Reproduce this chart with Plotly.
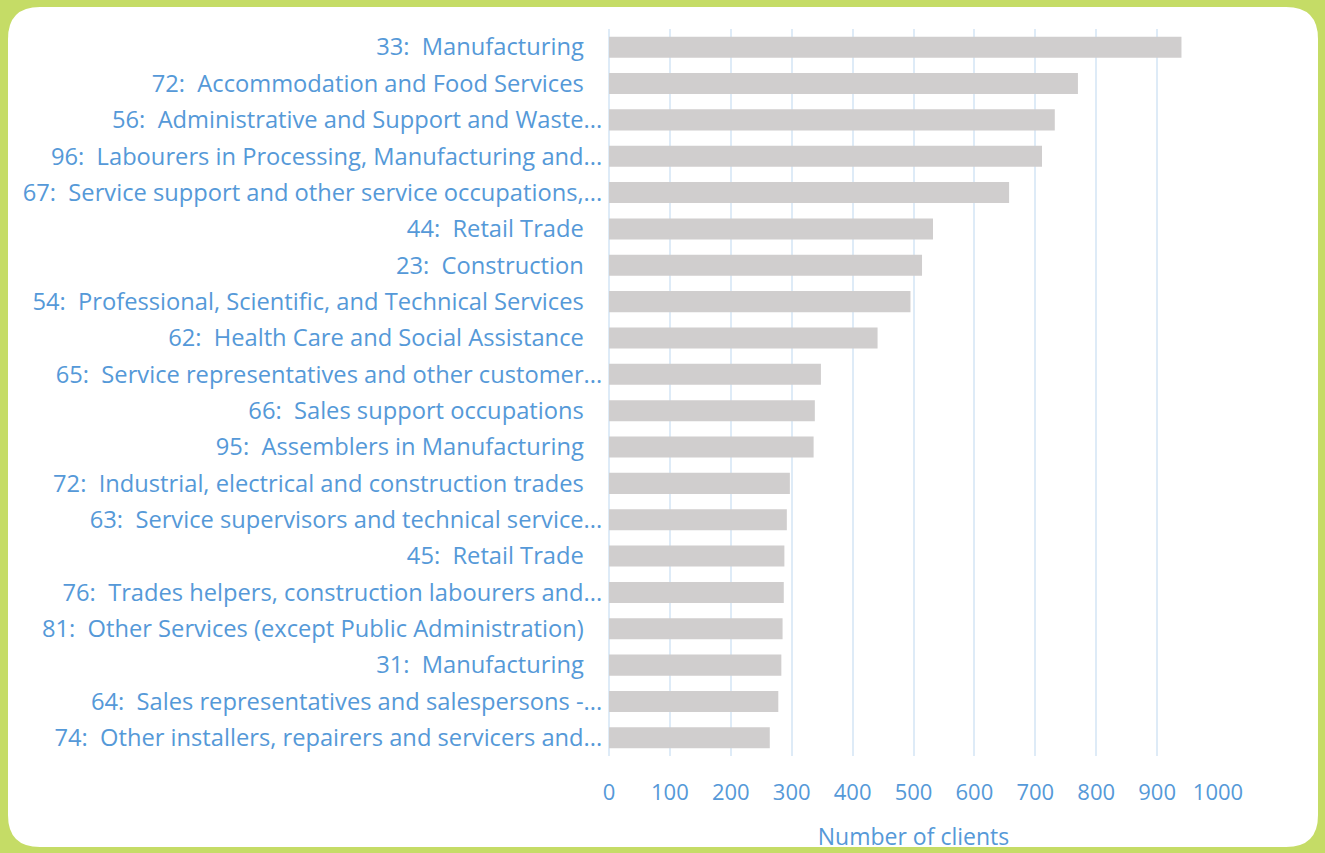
import plotly.graph_objects as go

# Client counts by industry / occupation code (largest first)
categories = [
    "33:  Manufacturing",
    "72:  Accommodation and Food Services",
    "56:  Administrative and Support and Waste...",
    "96:  Labourers in Processing, Manufacturing and...",
    "67:  Service support and other service occupations,...",
    "44:  Retail Trade",
    "23:  Construction",
    "54:  Professional, Scientific, and Technical Services",
    "62:  Health Care and Social Assistance",
    "65:  Service representatives and other customer...",
    "66:  Sales support occupations",
    "95:  Assemblers in Manufacturing",
    "72:  Industrial, electrical and construction trades",
    "63:  Service supervisors and technical service...",
    "45:  Retail Trade",
    "76:  Trades helpers, construction labourers and...",
    "81:  Other Services (except Public Administration)",
    "31:  Manufacturing",
    "64:  Sales representatives and salespersons -...",
    "74:  Other installers, repairers and servicers and...",
]
clients = [940, 770, 732, 711, 657, 532, 514, 495, 441, 348,
           338, 336, 297, 292, 288, 287, 285, 283, 278, 264]

x_ticks = [0, 100, 200, 300, 400, 500, 600, 700, 800, 900, 1000]

W, H = 1325, 853
ML, MR, MT, MB = 609, 107, 29, 97

TEXT_BLUE = "#5599d8"
BAR_GREY = "#d0cece"
GRID_BLUE = "#deebf7"
FRAME_GREEN = "#c5dc66"
FONT = "Open Sans"


def tick_text(label):
    # keep the double space after the code; pad labels that are not truncated
    t = label.replace(":  ", ":\u00a0\u00a0")
    if not t.endswith("..."):
        t += "\u00a0\u00a0\u00a0"
    return t


fig = go.Figure(
    go.Bar(
        x=clients,
        y=categories,
        orientation="h",
        marker=dict(color=BAR_GREY, line=dict(width=0)),
        hoverinfo="x+y",
    )
)


def px_to_paper_x(px):
    return (px - ML) / (W - ML - MR)


def px_to_paper_y(py):
    return 1 - (py - MT) / (H - MT - MB)


# white rounded panel on the green frame
x0, x1, y0, y1, r = 8, 1318, 7, 847, 32
path = (
    f"M {px_to_paper_x(x0 + r)},{px_to_paper_y(y0)} "
    f"L {px_to_paper_x(x1 - r)},{px_to_paper_y(y0)} "
    f"Q {px_to_paper_x(x1)},{px_to_paper_y(y0)} {px_to_paper_x(x1)},{px_to_paper_y(y0 + r)} "
    f"L {px_to_paper_x(x1)},{px_to_paper_y(y1 - r)} "
    f"Q {px_to_paper_x(x1)},{px_to_paper_y(y1)} {px_to_paper_x(x1 - r)},{px_to_paper_y(y1)} "
    f"L {px_to_paper_x(x0 + r)},{px_to_paper_y(y1)} "
    f"Q {px_to_paper_x(x0)},{px_to_paper_y(y1)} {px_to_paper_x(x0)},{px_to_paper_y(y1 - r)} "
    f"L {px_to_paper_x(x0)},{px_to_paper_y(y0 + r)} "
    f"Q {px_to_paper_x(x0)},{px_to_paper_y(y0)} {px_to_paper_x(x0 + r)},{px_to_paper_y(y0)} Z"
)

fig.update_layout(
    width=W,
    height=H,
    margin=dict(l=ML, r=MR, t=MT, b=MB, pad=0, autoexpand=False),
    paper_bgcolor=FRAME_GREEN,
    plot_bgcolor="rgba(0,0,0,0)",
    font=dict(family=FONT, size=23.7, color=TEXT_BLUE),
    bargap=0.42,
    showlegend=False,
    shapes=[
        dict(
            type="path",
            path=path,
            xref="paper",
            yref="paper",
            fillcolor="white",
            line=dict(width=0),
            layer="below",
        )
    ],
    xaxis=dict(
        range=[0, 1000],
        tickvals=x_ticks,
        ticktext=[str(v) for v in x_ticks],
        showgrid=True,
        gridcolor=GRID_BLUE,
        gridwidth=1.5,
        zeroline=True,
        zerolinecolor=GRID_BLUE,
        zerolinewidth=1.5,
        showline=False,
        ticks="outside",
        ticklen=17,
        tickcolor="rgba(0,0,0,0)",
        tickfont=dict(family=FONT, size=22, color=TEXT_BLUE),
        title=dict(text="Number of clients", font=dict(family=FONT, size=23, color=TEXT_BLUE), standoff=23),
        automargin=False,
        fixedrange=True,
    ),
    yaxis=dict(
        categoryorder="array",
        categoryarray=categories[::-1],
        tickvals=categories,
        ticktext=[tick_text(c) for c in categories],
        showgrid=False,
        zeroline=False,
        showline=False,
        ticks="outside",
        ticklen=1,
        tickcolor="rgba(0,0,0,0)",
        tickfont=dict(family=FONT, size=23.7, color=TEXT_BLUE),
        automargin=False,
        fixedrange=True,
    ),
)

fig.write_html("out.html")
